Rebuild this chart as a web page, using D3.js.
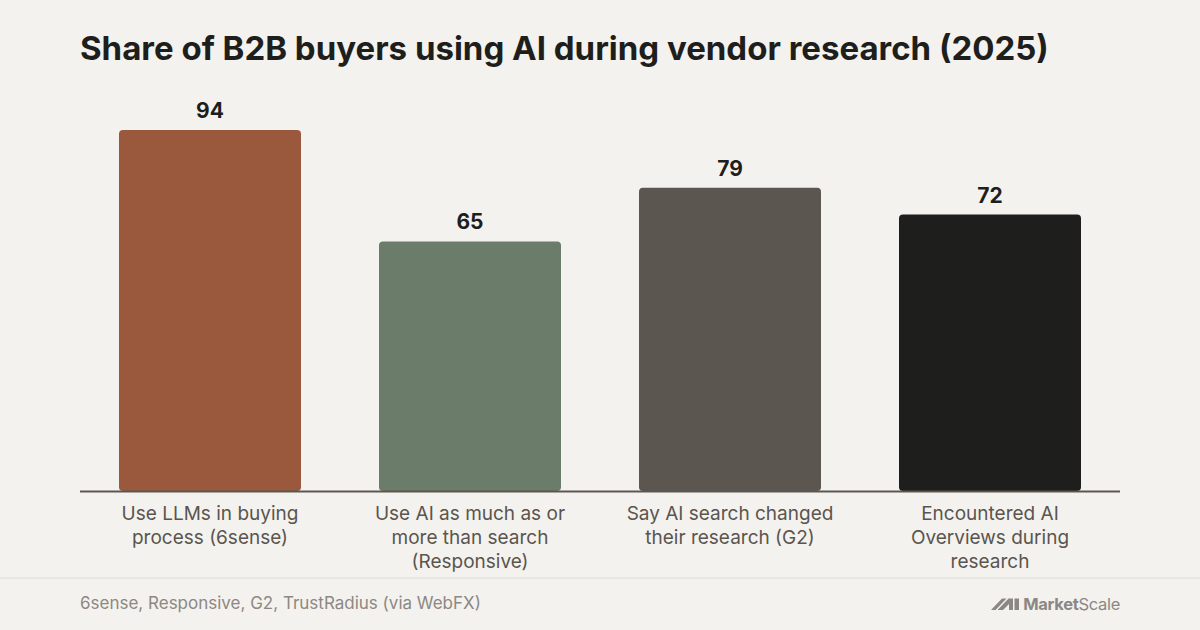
<!DOCTYPE html>
<html>
<head>
<meta charset="utf-8">
<script src="https://cdn.jsdelivr.net/npm/d3@7"></script>
<style>
  html, body { margin: 0; padding: 0; background: #f4f2ee; }
  svg { display: block; font-family: Inter, "Noto Sans", sans-serif; }
</style>
</head>
<body>
<svg id="chart" width="1200" height="630"></svg>
<script>
// chart data
var categories = [
  ["Use LLMs in buying", "process (6sense)"],
  ["Use AI as much as or", "more than search", "(Responsive)"],
  ["Say AI search changed", "their research (G2)"],
  ["Encountered AI", "Overviews during", "research"]
];
var values = [94, 65, 79, 72];
var barColors = ["#9a593d", "#6b7c6a", "#5c5650", "#1e1e1c"];

var titleText = "Share of B2B buyers using AI during vendor research (2025)";
var sourceText = "6sense, Responsive, G2, TrustRadius (via WebFX)";

var width = 1200, height = 630;
var left = 80, right = 1120, base = 491;

var svg = d3.select("#chart");

svg.append("rect")
  .attr("width", width).attr("height", height)
  .attr("fill", "#f4f2ee");

svg.append("text")
  .attr("x", left).attr("y", 60)
  .attr("font-size", 33)
  .attr("font-weight", 700)
  .attr("fill", "#1e1e1c")
  .text(titleText);

var idx = d3.range(values.length);

var x = d3.scaleBand()
  .domain(idx)
  .range([left, right])
  .paddingInner(0.3)
  .paddingOuter(0.15);

var y = d3.scaleLinear()
  .domain([0, 100])
  .range([base, base - 384]);

// bars
svg.selectAll("rect.bar")
  .data(idx)
  .enter().append("rect")
    .attr("class", "bar")
    .attr("x", function(i) { return x(i); })
    .attr("y", function(i) { return y(values[i]); })
    .attr("width", x.bandwidth())
    .attr("height", function(i) { return y(0) - y(values[i]); })
    .attr("rx", 4)
    .attr("fill", function(i) { return barColors[i]; });

// value labels
svg.selectAll("text.val")
  .data(idx)
  .enter().append("text")
    .attr("class", "val")
    .attr("x", function(i) { return x(i) + x.bandwidth() / 2; })
    .attr("y", function(i) { return y(values[i]) - 12; })
    .attr("text-anchor", "middle")
    .attr("font-size", 21)
    .attr("font-weight", 700)
    .attr("fill", "#1e1e1c")
    .text(function(i) { return values[i]; });

// baseline
svg.append("line")
  .attr("x1", left).attr("x2", right)
  .attr("y1", base + 0.5).attr("y2", base + 0.5)
  .attr("stroke", "#5c5650")
  .attr("stroke-width", 2);

// category labels
var cat = svg.selectAll("text.cat")
  .data(idx)
  .enter().append("text")
    .attr("class", "cat")
    .attr("text-anchor", "middle")
    .attr("font-size", 19)
    .attr("fill", "#5a554f");

cat.selectAll("tspan")
  .data(function(i) {
    return categories[i].map(function(t) { return { t: t, cx: x(i) + x.bandwidth() / 2 }; });
  })
  .enter().append("tspan")
    .attr("x", function(d) { return d.cx; })
    .attr("y", function(d, j) { return 520 + j * 24; })
    .text(function(d) { return d.t; });

// footer
svg.append("line")
  .attr("x1", 0).attr("x2", width)
  .attr("y1", 578).attr("y2", 578)
  .attr("stroke", "#e6e3de")
  .attr("stroke-width", 1.5);

svg.append("text")
  .attr("x", left).attr("y", 609)
  .attr("font-size", 17)
  .attr("fill", "#8c8882")
  .text(sourceText);

// logo
var logo = svg.append("g").attr("fill", "#8a8784");
logo.append("path")
  .attr("d", "M991,610 L1002,598.5 L1006.5,598.5 L995.5,610 Z M997.5,610 L1008.5,598.5 L1013,598.5 L1013,610 L1009,610 L1009,604 L1003,610 Z M1014.5,598.5 L1019,598.5 L1019,610 L1014.5,610 Z");
logo.append("text")
  .attr("x", 1120).attr("y", 609.5)
  .attr("text-anchor", "end")
  .attr("font-size", 16.5)
  .attr("letter-spacing", "-0.3")
  .call(function(t) {
    t.append("tspan").attr("font-weight", 700).text("Market");
    t.append("tspan").attr("font-weight", 400).text("Scale");
  });
</script>
</body>
</html>
